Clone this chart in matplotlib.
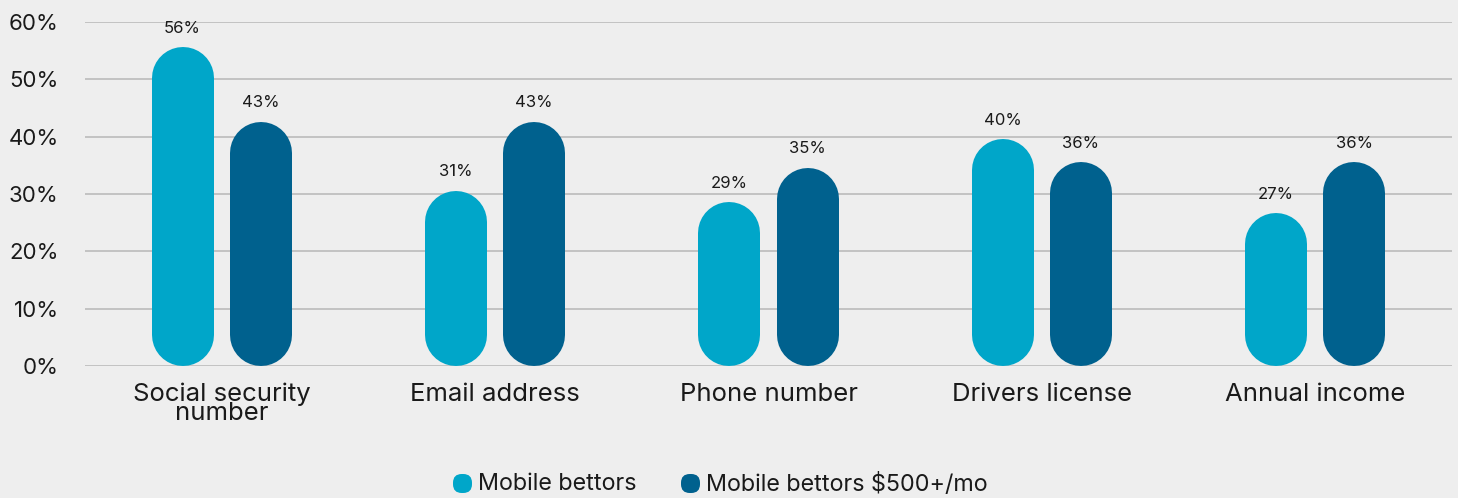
import matplotlib.pyplot as plt
from matplotlib.patches import FancyBboxPatch

# Survey data: share of bettors willing to share each item
categories = ['Social security\nnumber', 'Email address', 'Phone number',
              'Drivers license', 'Annual income']
mobile_bettors = [56, 31, 29, 40, 27]
mobile_bettors_500 = [43, 43, 35, 36, 36]
series_names = ['Mobile bettors', 'Mobile bettors $500+/mo']
yticks = [0, 10, 20, 30, 40, 50, 60]

LIGHT = '#00a6c9'
DARK = '#00618e'
BG = '#eeeeee'
INK = '#1a1a1a'
FONT = ['Inter', 'DejaVu Sans']

W, H, DPI = 1458, 498, 100
fig = plt.figure(figsize=(W / DPI, H / DPI), dpi=DPI, facecolor=BG)
ax_l, ax_r, ax_b, ax_t = 85, 1452, 366, 22  # pixel edges of the plot area
ax = fig.add_axes([ax_l / W, (H - ax_b) / H, (ax_r - ax_l) / W, (ax_b - ax_t) / H])
ax.set_facecolor(BG)
ax.set_xlim(-0.5, len(categories) - 0.5)
ax.set_ylim(0, 60)

for s in ax.spines.values():
    s.set_visible(False)
ax.set_yticks(yticks)
ax.set_yticklabels([f'{v}%' for v in yticks], fontsize=16, family=FONT, color=INK)
ax.yaxis.grid(True, color='#c2c2c2', linewidth=1.4)
ax.set_axisbelow(True)
ax.tick_params(axis='y', length=0, pad=19)
ax.set_xticks(range(len(categories)))
ax.set_xticklabels(categories, fontsize=18.5, family=FONT, color=INK,
                   linespacing=0.78)
ax.tick_params(axis='x', length=0, pad=12)

# pill-shaped bars: thick lines with round caps
bar_px = 62
px_per_unit = (ax_b - ax_t) / 60.0
r = bar_px / 2 / px_per_unit
lw = bar_px * 72 / DPI
offset = 0.143
for vals, color, dx in [(mobile_bettors, LIGHT, -offset), (mobile_bettors_500, DARK, offset)]:
    for i, v in enumerate(vals):
        x = i + dx
        ax.plot([x, x], [r, v - r - 0.4], color=color, linewidth=lw,
                solid_capstyle='round', zorder=3)
        ax.annotate(f'{v}%', (x, v), xytext=(0, 6.5), textcoords='offset points',
                    ha='center', va='bottom', fontsize=12, family=FONT,
                    color=INK)

# legend with rounded swatches
leg = [(453, LIGHT, series_names[0]), (681, DARK, series_names[1])]
for x0, color, label in leg:
    sw = FancyBboxPatch((x0 / W, (H - 493) / H), 19 / W, 19 / H,
                        boxstyle='round,pad=0,rounding_size=0.006',
                        transform=fig.transFigure, facecolor=color,
                        edgecolor='none', mutation_aspect=W / H)
    fig.patches.append(sw)
    fig.text((x0 + 25) / W, (H - 484) / H, label, fontsize=16.8, family=FONT,
             color=INK, va='center', ha='left')

fig.savefig('out.png', dpi=DPI, facecolor=BG)
